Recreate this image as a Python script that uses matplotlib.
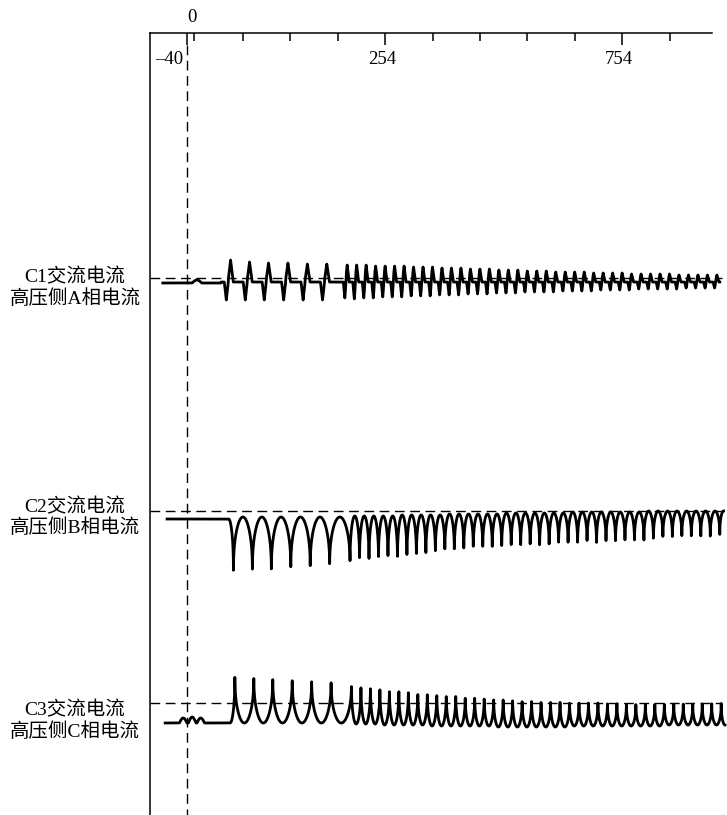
import numpy as np
import matplotlib.pyplot as plt

# ---- data (time in ms, 0 = dashed marker line) ----
# pulse instants: 6 pulses every other cycle, then one pulse per 50 Hz cycle
pulse_t = [92, 132, 172, 213, 254, 295,
           338, 358, 378, 398, 418, 438, 458, 478, 498, 518,
           538, 558, 578, 598, 618, 638, 658, 678, 698, 718,
           738, 758, 778, 798, 818, 838, 858, 878, 898, 918,
           938, 958, 978, 998, 1018, 1038, 1058, 1078, 1098, 1118]
phase_shift = {"C1": 0, "C2": 6, "C3": 9}

# C1 (phase A): bipolar spikes, values relative to the zero (dashed) line
c1_up = [18, 16, 15, 15, 14, 14,
         13, 13, 13, 12, 12, 12, 12, 11, 11, 11,
         10, 10, 10, 9, 9, 9, 8, 8, 8, 7,
         7, 7, 6, 6, 6, 6, 5, 5, 5, 5,
         4, 4, 4, 4, 4, 3, 3, 3, 3, 3]
c1_dn = [-22, -22, -22, -22, -22, -22,
         -20, -21, -20, -20, -19, -19, -19, -18, -18, -18,
         -17, -17, -17, -16, -16, -16, -15, -15, -15, -14,
         -14, -14, -14, -13, -13, -13, -13, -12, -12, -12,
         -12, -11, -11, -11, -11, -11, -10, -10, -10, -10]
c1_rest = -4
c1_pre = -5
c1_wiggle_t = [21]
c1_wiggle_h = [3]

# C2 (phase B): negative inrush spikes
c2_tip = [-62, -61, -61, -59, -58, -56,
          -54, -51, -52, -50, -49, -50, -48, -47, -46, -44,
          -42, -42, -41, -39, -39, -39, -38, -37, -37, -36,
          -37, -36, -34, -34, -34, -32, -34, -32, -32, -31,
          -31, -31, -29, -27, -27, -26, -26, -26, -26, -24]
c2_rest = [-6, -6, -6, -6, -6, -6,
           -5, -5, -5, -5, -5, -4, -4, -4, -4, -4,
           -3, -3, -3, -3, -3, -3, -2, -2, -2, -2,
           -2, -2, -2, -1, -1, -1, -1, -1, -1, -1,
           -1, 0, 0, 0, 0, 0, 0, 0, 0, 0]
c2_pre = -8

# C3 (phase C): positive inrush spikes
c3_tip = [28, 27, 26, 25, 24, 23,
          20, 19, 18, 17, 15, 15, 14, 12, 12, 11,
          10, 10, 8, 8, 7, 6, 6, 5, 4, 4,
          3, 3, 3, 2, 2, 2, 2, 1, 1, 0,
          0, 0, 0, 0, 0, 0, 0, 0, 0, 0]
c3_rest = [-20, -20, -20, -20, -20, -20,
           -21, -21, -21, -22, -22, -22, -22, -22, -23, -23,
           -23, -23, -23, -23, -23, -24, -24, -24, -24, -24,
           -24, -24, -24, -23, -23, -23, -23, -23, -23, -23,
           -23, -23, -23, -22, -22, -22, -22, -22, -22, -22]
c3_pre = -20
c3_bump_t = [-8, 11, 29]
c3_bump_h = [5, 6, 5]

trace_start = {"C1": -51, "C2": -42, "C3": -46}
zero_level = {"C1": 537, "C2": 304, "C3": 112}

labels = {"C1": ["C1交流电流", "高压侧A相电流"],
          "C2": ["C2交流电流", "高压侧B相电流"],
          "C3": ["C3交流电流", "高压侧C相电流"]}
label_y = {"C1": [538, 516], "C2": [308, 287], "C3": [105, 83]}

minor_ticks = [15, 118, 218, 318, 518, 618, 718, 818, 1018]
major_ticks = [0, 418, 918]
tick_text = ["–40", "254", "754"]


def pulse_train(t, tp, tips, rests, pre, lead, tail, p=0.4):
    tp = np.asarray(tp, float)
    tips = np.asarray(tips, float)
    rests = np.asarray(rests, float)
    y = np.full_like(t, np.nan)
    y[t <= tp[0] - lead] = pre
    m = (t > tp[0] - lead) & (t <= tp[0])
    ph = 0.5 + (t[m] - (tp[0] - lead)) / (2 * lead)
    y[m] = pre + (tips[0] - pre) * (1 - np.abs(np.sin(np.pi * ph)) ** p)
    idx = np.searchsorted(tp, t, side="right") - 1
    m = (idx >= 0) & (idx < len(tp) - 1)
    i = idx[m]
    ph = (t[m] - tp[i]) / (tp[i + 1] - tp[i])
    tip = tips[i] * (1 - ph) + tips[i + 1] * ph
    y[m] = rests[i] + (tip - rests[i]) * (1 - np.sin(np.pi * ph) ** p)
    m = (t >= tp[-1]) & (t <= tp[-1] + tail)
    ph = (t[m] - tp[-1]) / (2 * tail)
    y[m] = rests[-1] + (tips[-1] - rests[-1]) * (1 - np.sin(np.pi * ph) ** p)
    return y


def tri(t, c, hw):
    return np.clip(1 - np.abs(t - c) / hw, 0, None)


def hump(t, c, w):
    d = np.abs(t - c)
    return np.where(d < w, np.cos(np.pi / 2 * d / w), 0)


fig = plt.figure(figsize=(7.27, 8.15), dpi=100)
ax = fig.add_axes([150 / 727, 0, 562 / 727, 782 / 815])
ax.set_xlim(-78, 1107.6)
ax.set_ylim(0, 782)
for s in ["right", "bottom"]:
    ax.spines[s].set_visible(False)
for s in ["top", "left"]:
    ax.spines[s].set_linewidth(1.1)
ax.set_yticks([])
ax.xaxis.set_ticks_position("top")
ax.set_xticks(major_ticks)
ax.set_xticks(minor_ticks, minor=True)
ax.tick_params(axis="x", which="major", direction="in", length=8.6, width=1.1,
               labeltop=False, labelbottom=False)
ax.tick_params(axis="x", which="minor", direction="in", length=5.8, width=1.1)

num_font = dict(family="Liberation Serif", fontsize=13.5)
ax.text(-7, 755, tick_text[0], ha="right", va="center", **num_font)
for x, s in zip(major_ticks[1:], tick_text[1:]):
    ax.text(x - 6, 755, s, ha="center", va="center", **num_font)
ax.text(10.5, 798, "0", ha="center", va="center", clip_on=False, **num_font)

# marker line at t = 0
ax.plot([0, 0], [770, 0], color="black", lw=1.0, dashes=(7, 4))

t = np.linspace(-60, 1140, 24000)
trace_lw = 2.0

# C1 trace: up spike at each instant, down spike shortly before it
z = zero_level["C1"]
tp1 = np.asarray(pulse_t, float) + phase_shift["C1"]
y1 = np.full_like(t, float(c1_rest))
y1[t < tp1[0] - 20] = c1_pre
for c, h in zip(c1_wiggle_t, c1_wiggle_h):
    y1 += h * hump(t, c, 10)
for k, (c, u, d) in enumerate(zip(tp1, c1_up, c1_dn)):
    hw = 5.5 if k < 6 else 4.0
    lag = 9 if k < 6 else 5
    y1 += (u - c1_rest) * tri(t, c, hw)
    y1 += (d - c1_rest) * tri(t, c - lag, hw * 0.8)
m = (t >= trace_start["C1"]) & (t <= tp1[-1] + 6)
ax.plot(t[m], z + y1[m], color="black", lw=trace_lw, clip_on=False)

# C2 trace
z = zero_level["C2"]
tp2 = np.asarray(pulse_t, float) + phase_shift["C2"]
y2 = pulse_train(t, tp2, c2_tip, c2_rest, c2_pre, 10, 8)
m = (t >= trace_start["C2"]) & ~np.isnan(y2)
ax.plot(t[m], z + y2[m], color="black", lw=trace_lw, clip_on=False)

# C3 trace
z = zero_level["C3"]
tp3 = np.asarray(pulse_t, float) + phase_shift["C3"]
y3 = pulse_train(t, tp3, c3_tip, c3_rest, c3_pre, 10, 8)
for c, h in zip(c3_bump_t, c3_bump_h):
    y3 += h * hump(t, c, 8)
m = (t >= trace_start["C3"]) & ~np.isnan(y3)
ax.plot(t[m], z + y3[m], color="black", lw=trace_lw, clip_on=False)

# zero reference lines and channel names
for ch in ["C1", "C2", "C3"]:
    ax.plot([-78, 1129], [zero_level[ch]] * 2, color="black", lw=1.0,
            dashes=(7, 4), clip_on=False)
    for txt, yy in zip(labels[ch], label_y[ch]):
        ax.text(-236, yy, txt, ha="center", va="center", fontsize=14,
                family=["Liberation Serif", "Noto Sans CJK SC"], clip_on=False)

fig.savefig("out.png", dpi=100, facecolor="white")
